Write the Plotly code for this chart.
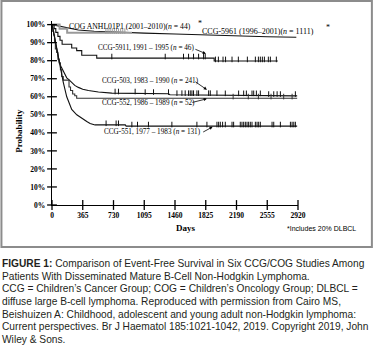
import numpy as np
import plotly.graph_objects as go

# ---- data -------------------------------------------------------------
x_ticks = [0, 365, 730, 1095, 1460, 1825, 2190, 2555, 2920]
y_ticks = [0, 10, 20, 30, 40, 50, 60, 70, 80, 90, 100]
y_tick_text = [f"{v}%" for v in y_ticks]

# CCG-5961 (1996-2001), n = 1111
ccg5961_days = [0, 100, 155, 313, 500, 730, 1095, 1460, 1825, 2190, 2555, 2900]
ccg5961_surv = [100, 99, 98.3, 97, 96.3, 95.8, 95.3, 94.8, 94.2, 93.7, 93.3, 93]

# COG ANHL01P1 (2001-2010), n = 44
anhl_days = [0, 90, 180, 950]
anhl_surv = [100, 97.7, 95.5, 95.5]
anhl_censor = [640, 665, 690, 715, 740, 765, 790, 815, 840, 865]

# CCG-5911, 1991-1995, n = 46
ccg5911_days = [0, 25, 45, 70, 95, 120, 234, 293, 353, 531, 1925, 2680]
ccg5911_surv = [100, 97.8, 95.7, 93.5, 91.3, 89.1, 87.0, 85.6, 83.0, 81.4, 79.8, 79.8]
ccg5911_censor = [710, 1344, 1561, 1621, 1680, 1740, 1799, 1819, 1940, 1975,
                  2030, 2060, 2137, 2212, 2319, 2414, 2450, 2473, 2497, 2521,
                  2568, 2592, 2663]

# CCG-503, 1983-1990, n = 241
ccg503_days = [0, 15, 30, 45, 60, 75, 90, 110, 134, 155, 175, 200, 234, 270,
               313, 365, 432, 551, 710, 1067, 1383, 1400, 2000, 2500, 2910]
ccg503_surv = [100, 97, 93, 89, 85, 81, 78.5, 76.5, 74, 72, 70.5, 69.5, 67.8,
               66.3, 65.2, 64.2, 63.5, 62.6, 62, 61.7, 61.7, 61.1, 61, 60.6, 60.5]
ccg503_censor = [749, 789, 987, 1106, 1205, 1383, 1483, 1542, 1581, 1621, 1641,
                 1661, 1680, 1720, 1740, 1859, 1879, 1958, 2057, 2215, 2275,
                 2307, 2374, 2394, 2426, 2473, 2572, 2632, 2672, 2711, 2889]

# CCG-552, 1986-1989, n = 52
ccg552_days = [0, 10, 20, 30, 40, 55, 70, 85, 100, 115, 134, 202, 220, 245,
               270, 293, 2910]
ccg552_surv = [100, 96.2, 94.2, 90.4, 86.5, 84.6, 80.8, 78.8, 75, 71.2, 69.2,
               65.4, 63.5, 61.5, 60.6, 59.2, 59.2]
ccg552_censor = [2150, 2330, 2450, 2600, 2750, 2850]

# CCG-551, 1977-1983, n = 131
ccg551_days = [0, 20, 40, 60, 75, 100, 134, 175, 234, 294, 353, 413, 452, 511,
               870, 880, 2910]
ccg551_surv = [100, 96, 91, 86, 82, 75, 68, 60, 53, 50, 48, 46.3, 45.2, 44.4,
               44.4, 43.7, 43.7]
ccg551_censor = [642, 761, 789, 948, 1015, 1145, 1423, 1720, 1839, 1958, 1978,
                 1998, 2025, 2057, 2137, 2156, 2235, 2255, 2275, 2295, 2315,
                 2334, 2354, 2374, 2414, 2434, 2453, 2473, 2612, 2632, 2711,
                 2830, 2850, 2870, 2889]

caption_lines = [
    "<b>FIGURE 1:</b> Comparison of Event-Free Survival in Six CCG/COG Studies Among",
    "Patients With Disseminated Mature B-Cell Non-Hodgkin Lymphoma.",
    "CCG = Children’s Cancer Group; COG = Children’s Oncology Group; DLBCL =",
    "diffuse large B-cell lymphoma. Reproduced with permission from Cairo MS,",
    "Beishuizen A: Childhood, adolescent and young adult non-Hodgkin lymphoma:",
    "Current perspectives. Br J Haematol 185:1021-1042, 2019. Copyright 2019, John",
    "Wiley & Sons.",
]

# ---- layout geometry (pixels) ----------------------------------------
W, H = 374, 347
ML, MR, MT, MB = 52, 76.3, 21.4, 142
PW, PH = W - ML - MR, H - MT - MB


def px(x):
    return (x - ML) / PW


def py(y):
    return (H - MB - y) / PH


SERIF = "Liberation Serif"
SANS = "Liberation Sans"
INK = "#000000"


def step_at(days, surv, t):
    """Survival value of a step curve at time t."""
    idx = np.searchsorted(np.asarray(days), np.asarray(t), side="right") - 1
    return np.asarray(surv)[idx]


fig = go.Figure()

curves = [
    (ccg5961_days, ccg5961_surv, "linear", "#111111", 1.1),
    (anhl_days, anhl_surv, "hv", "#9a9a9a", 2.0),
    (ccg5911_days, ccg5911_surv, "hv", "#111111", 1.1),
    (ccg503_days, ccg503_surv, "linear", "#111111", 1.1),
    (ccg552_days, ccg552_surv, "hv", "#333333", 1.1),
    (ccg551_days, ccg551_surv, "linear", "#111111", 1.1),
]
for d, s, shape, col, w in curves:
    fig.add_trace(go.Scatter(x=d, y=s, mode="lines", line=dict(color=col, width=w, shape=shape),
                             hoverinfo="skip", showlegend=False))

# censoring marks
censors = [
    (anhl_days, anhl_surv, anhl_censor, "#9a9a9a"),
    (ccg5911_days, ccg5911_surv, ccg5911_censor, "#111111"),
    (ccg503_days, ccg503_surv, ccg503_censor, "#111111"),
    (ccg552_days, ccg552_surv, ccg552_censor, "#333333"),
    (ccg551_days, ccg551_surv, ccg551_censor, "#111111"),
]
for d, s, c, col in censors:
    yv = step_at(d, s, c) + 0.9
    fig.add_trace(go.Scatter(x=c, y=yv, mode="markers",
                             marker=dict(symbol="line-ns", size=4, line=dict(color=col, width=1)),
                             hoverinfo="skip", showlegend=False))

# crossing tick marks on both axes
fig.add_trace(go.Scatter(x=[0] * len(y_ticks), y=y_ticks, mode="markers", cliponaxis=False,
                         marker=dict(symbol="line-ew", size=7, line=dict(color="black", width=1.3)),
                         hoverinfo="skip", showlegend=False))
fig.add_trace(go.Scatter(x=x_ticks, y=[0] * len(x_ticks), mode="markers", cliponaxis=False,
                         marker=dict(symbol="line-ns", size=7, line=dict(color="black", width=1.3)),
                         hoverinfo="skip", showlegend=False))

ann = []


def label(x, y, text, size=7.2, font=SERIF, anchor="left", color=INK, **kw):
    ann.append(dict(x=px(x), y=py(y), xref="paper", yref="paper", text=text, showarrow=False,
                    xanchor=anchor, yanchor="middle",
                    font=dict(family=font, size=size, color=color), **kw))


label(67, 27, "COG ANHL01P1 (2001–2010)(<i>n</i> = 44)", size=7.7)
label(196, 24, "*", size=8)
label(200, 31.5, "CCG-5961 (1996–2001)(<i>n</i> = 1111)", size=8)
label(324, 28, "*", size=8)
label(96, 48.5, "CCG-5911, 1991 – 1995 (<i>n</i> = 46)")
label(100, 81, "CCG-503, 1983 – 1990 (<i>n</i> = 241)")
label(100, 103.5, "CCG-552, 1986 – 1989 (<i>n</i> = 52)")
label(101.5, 132.5, "CCG-551, 1977 – 1983 (<i>n</i> = 131)")

# arrows from the labels to their curves
for tip_x, tip_y, ax, ay in [(205.7, 54, -12, -5), (206.7, 90, -13, -9),
                            (206.7, 99, -16, 4), (212.5, 127, -11, 6)]:
    ann.append(dict(x=px(tip_x), y=py(tip_y), xref="paper", yref="paper", text="",
                    showarrow=True, ax=ax, ay=ay, arrowhead=2, arrowsize=0.8,
                    arrowwidth=0.8, arrowcolor=INK, standoff=0))

# rotated axis title (anchor offset compensates for rotation of the text box)
label(19, 131, "<b>Probability</b>", size=9, anchor="center", textangle=-90)
label(186, 228, "<b>Days</b>", size=9, anchor="center")
label(285, 228, "*Includes 20% DLBCL", size=7, font=SANS)

for i, line in enumerate(caption_lines):
    label(0, 263.5 + 12.6 * i, line, size=10.2, font=SANS, color="#231f20")

fig.update_layout(
    width=W, height=H,
    margin=dict(l=ML, r=MR, t=MT, b=MB, pad=0),
    paper_bgcolor="white", plot_bgcolor="white",
    annotations=ann,
    shapes=[dict(type="rect", xref="paper", yref="paper",
                 x0=px(1.5), x1=px(371.5), y0=py(1.5), y1=py(247),
                 line=dict(color="#8c8c8c", width=2), layer="below")],
    xaxis=dict(range=[0, 2920], tickvals=x_ticks, ticktext=[str(v) for v in x_ticks],
               showgrid=False, zeroline=False, showline=True, linecolor="black", linewidth=1.4,
               ticks="outside", ticklen=3, tickcolor="rgba(0,0,0,0)",
               tickfont=dict(family=SERIF, size=7.5, color=INK, weight="bold")),
    yaxis=dict(range=[0, 102], tickvals=y_ticks, ticktext=y_tick_text,
               showgrid=False, zeroline=False, showline=True, linecolor="black", linewidth=1.4,
               ticks="outside", ticklen=4, tickcolor="rgba(0,0,0,0)",
               tickfont=dict(family=SERIF, size=7.5, color=INK, weight="bold")),
)

fig.write_html("out.html")
